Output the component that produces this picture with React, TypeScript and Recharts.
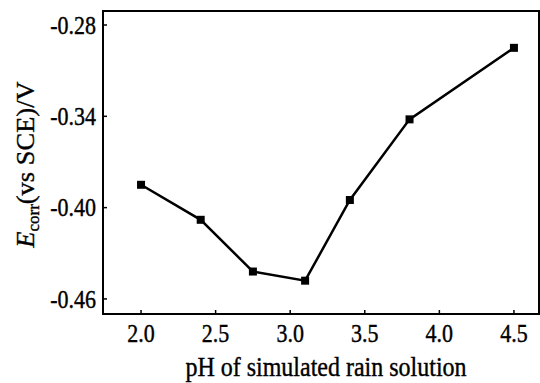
import React from 'react';
import { LineChart, Line, XAxis, YAxis, ReferenceArea } from 'recharts';

const phValues = [2.0, 2.4, 2.75, 3.1, 3.4, 3.8, 4.5];
const ecorrValues = [-0.385, -0.408, -0.442, -0.448, -0.395, -0.342, -0.295];
const xTicks = [2.0, 2.5, 3.0, 3.5, 4.0, 4.5];
const yTicks = [-0.46, -0.40, -0.34, -0.28];
const xDomain: [number, number] = [1.745, 4.668];
const yDomain: [number, number] = [-0.4699, -0.2708];
const xLabel = 'pH of simulated rain solution';

const data = phValues.map((ph, i) => ({ ph, e: ecorrValues[i] }));

const FONT = '"Liberation Serif", "Times New Roman", serif';
const X_MARGIN = 10;
const Y_MARGIN = 7;
const TICK_LEN = 4;
const TEXT_STROKE = 0.35;

const XTick = (props: any) => {
  const { x, y, payload } = props;
  const axisY = y - X_MARGIN;
  return (
    <g>
      <line x1={x} x2={x} y1={axisY} y2={axisY - TICK_LEN} stroke="#000" strokeWidth={1.5} />
      <text
        transform={`translate(${x},${y}) scale(1,1.12)`}
        textAnchor="middle"
        dy="0.71em"
        fontFamily={FONT}
        fontSize={22}
        fill="#000"
        stroke="#000"
        strokeWidth={TEXT_STROKE}
      >
        {Number(payload.value).toFixed(1)}
      </text>
    </g>
  );
};

const YTick = (props: any) => {
  const { x, y, payload } = props;
  const axisX = x + Y_MARGIN;
  return (
    <g>
      <line x1={axisX} x2={axisX + TICK_LEN} y1={y} y2={y} stroke="#000" strokeWidth={1.5} />
      <text
        transform={`translate(${x},${y}) scale(1,1.12)`}
        textAnchor="end"
        dy="0.355em"
        fontFamily={FONT}
        fontSize={22}
        fill="#000"
        stroke="#000"
        strokeWidth={TEXT_STROKE}
      >
        {Number(payload.value).toFixed(2)}
      </text>
    </g>
  );
};

const YLabel = (props: any) => {
  const { viewBox } = props;
  const cx = viewBox.x + 34;
  const cy = viewBox.y + viewBox.height / 2 + 2;
  return (
    <text
      transform={`translate(${cx},${cy}) rotate(-90) scale(1.06,1)`}
      textAnchor="middle"
      fontFamily={FONT}
      fontSize={25}
      fill="#000"
      stroke="#000"
      strokeWidth={TEXT_STROKE}
    >
      <tspan fontStyle="italic">E</tspan>
      <tspan fontSize={16} dy="0.3em">corr</tspan>
      <tspan dy="-0.19em">(vs SCE)/V</tspan>
    </text>
  );
};

const XLabel = (props: any) => {
  const { viewBox } = props;
  const cx = viewBox.x + viewBox.width / 2 + 5;
  const cy = viewBox.y + 62;
  return (
    <text
      transform={`translate(${cx},${cy}) scale(1,1.1)`}
      textAnchor="middle"
      fontFamily={FONT}
      fontSize={24}
      fill="#000"
      stroke="#000"
      strokeWidth={TEXT_STROKE}
    >
      {xLabel}
    </text>
  );
};

const SquareDot = (props: any) => {
  const { cx, cy } = props;
  if (cx == null || cy == null) return null;
  const s = 8;
  return <rect x={cx - s / 2} y={cy - s / 2} width={s} height={s} fill="#000" />;
};

export default function App() {
  return (
    <div style={{ position: 'absolute', left: 0, top: 0, background: '#fff' }}>
      <LineChart
        width={540}
        height={383}
        data={data}
        margin={{ top: 11, right: 1, bottom: 0, left: 0 }}
      >
        <XAxis
          dataKey="ph"
          type="number"
          domain={xDomain}
          ticks={xTicks}
          allowDataOverflow
          height={69}
          tickSize={0}
          tickMargin={X_MARGIN}
          tickLine={false}
          axisLine={{ stroke: '#000', strokeWidth: 2 }}
          tick={<XTick />}
          interval={0}
          label={<XLabel />}
        />
        <YAxis
          type="number"
          domain={yDomain}
          ticks={yTicks}
          allowDataOverflow
          width={103}
          tickSize={0}
          tickMargin={Y_MARGIN}
          tickLine={false}
          axisLine={{ stroke: '#000', strokeWidth: 2 }}
          tick={<YTick />}
          interval={0}
          label={<YLabel />}
        />
        <ReferenceArea
          x1={xDomain[0]}
          x2={xDomain[1]}
          y1={yDomain[0]}
          y2={yDomain[1]}
          fill="none"
          stroke="#000"
          strokeWidth={2}
          ifOverflow="visible"
        />
        <Line
          dataKey="e"
          stroke="#000"
          strokeWidth={2.5}
          dot={<SquareDot />}
          activeDot={false}
          isAnimationActive={false}
        />
      </LineChart>
    </div>
  );
}
